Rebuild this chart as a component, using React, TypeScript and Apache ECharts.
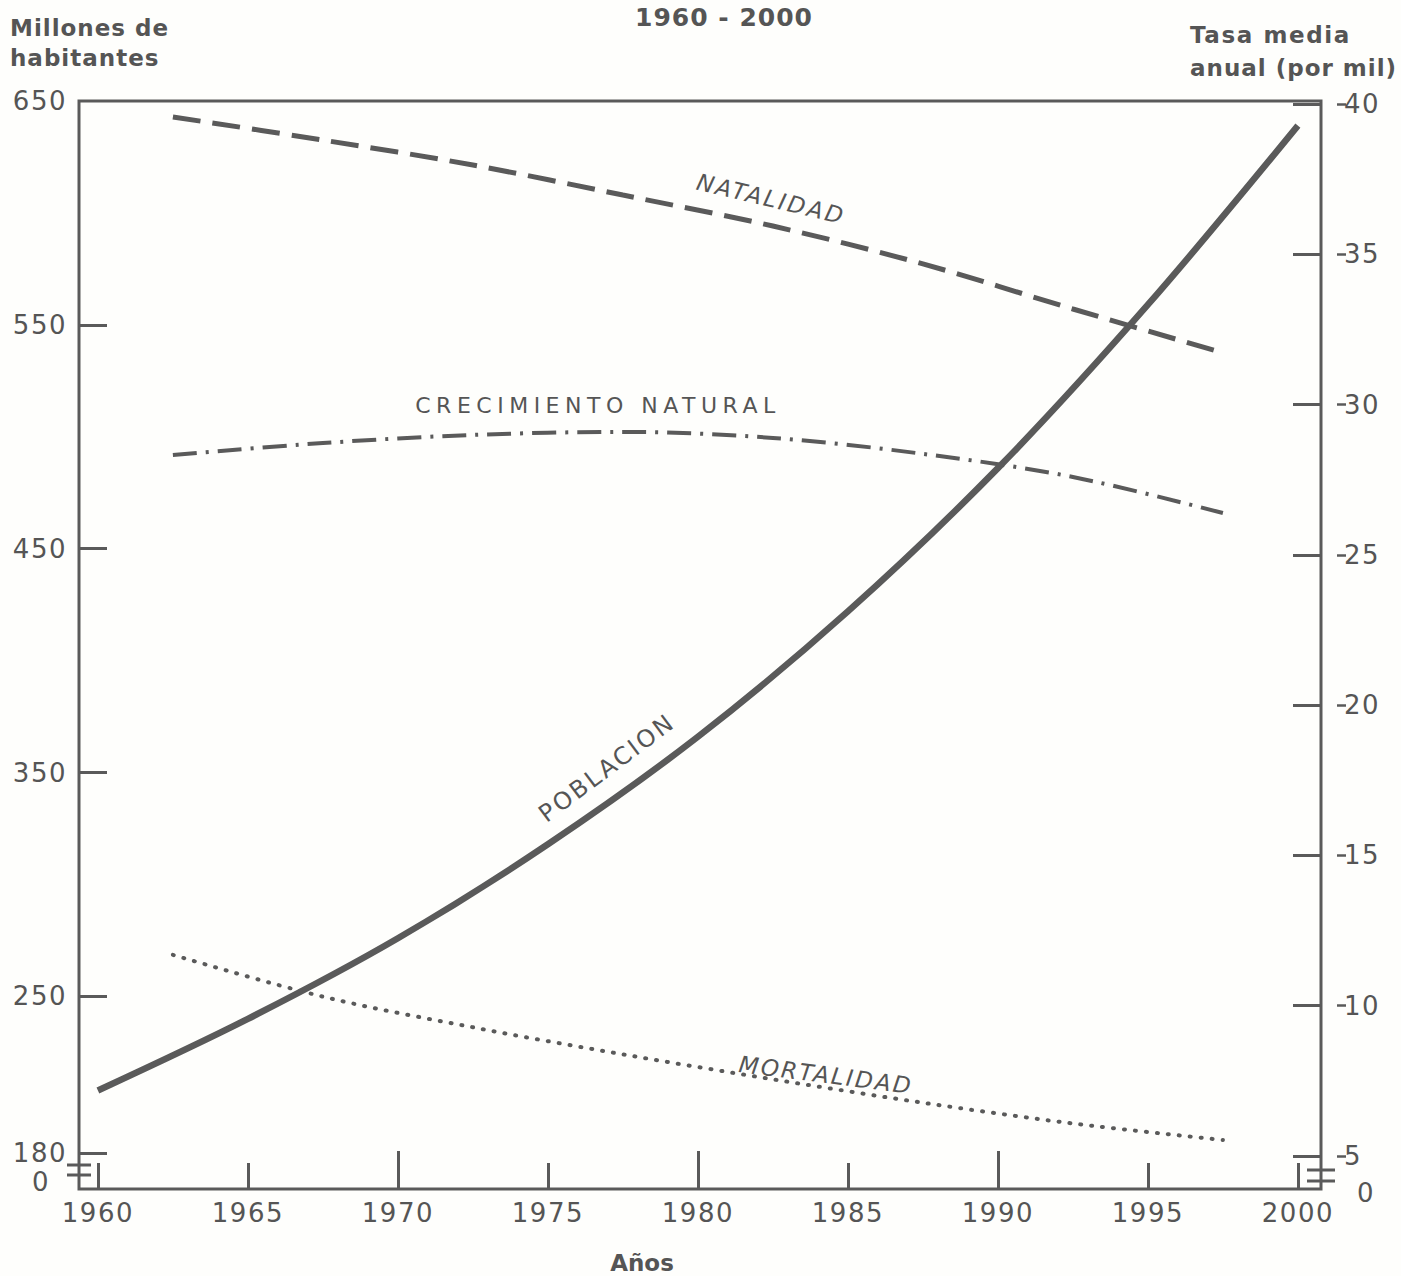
import React, { useEffect, useRef } from "react";
import * as echarts from "echarts";

// ---- data ----
const YEARS = [1960, 1965, 1970, 1975, 1980, 1985, 1990, 1995, 2000];
const POBLACION = [208, 240, 276, 318, 366, 422, 486, 559, 639];

const MID_YEARS = [1962.5, 1967.5, 1972.5, 1977.5, 1982.5, 1987.5, 1992.5, 1997.5];
const NATALIDAD = [39.57, 38.8, 37.97, 36.97, 35.94, 34.68, 33.18, 31.72];
const CRECIMIENTO = [28.32, 28.72, 28.99, 29.09, 28.89, 28.36, 27.59, 26.39];
const MORTALIDAD = [11.69, 10.3, 9.28, 8.38, 7.55, 6.77, 6.08, 5.53];

const X_LABELS = [1960, 1965, 1970, 1975, 1980, 1985, 1990, 1995, 2000];
const X_LONG_TICKS = [1970, 1980, 1990];
const X_SHORT_TICKS = [1960, 1965, 1975, 1985, 1995, 2000];
const LEFT_TICKS = [180, 250, 350, 450, 550];
const LEFT_LABELS = [180, 250, 350, 450, 550, 650];
const RIGHT_TICKS = [5, 10, 15, 20, 25, 30, 35, 40];

const INK = "#5a5a5a";
const TEXT = "#555555";
const FONT = "DejaVu Sans";
const SMOOTH = 0.33;

// extra spacing between letters of the hand-lettered labels
const LETTER_SPACING: Record<string, number> = {
  "CRECIMIENTO NATURAL": 5.5,
  NATALIDAD: 2.5,
  MORTALIDAD: 2.3,
  POBLACION: 2.5,
  "1960 - 2000": 1,
  "Millones de": 1,
  habitantes: 1,
  "Tasa media": 1.6,
  "anual (por mil)": 1,
};
const NUMBER_SPACING = 1.5;

const zip = (xs: number[], ys: number[]) => xs.map((x, i) => [x, ys[i]]);

export default function App() {
  const ref = useRef<HTMLDivElement>(null);

  useEffect(() => {
    document.body.style.margin = "0";
    document.body.style.overflow = "hidden";
    const chart = echarts.init(ref.current!, null, { renderer: "svg" });

    const X_MIN = 1959.37;
    const X_MAX = 2000.77;
    const L_MIN = 164;
    const L_MAX = 650;
    const R_MIN = 3.9;
    const R_MAX = 40.1;

    const tickLabel = { color: TEXT, fontFamily: FONT, fontSize: 26 };

    const option: any = {
      animation: false,
      backgroundColor: "#fefefc",
      grid: {
        left: 79,
        right: 80,
        top: 101,
        bottom: 87,
        show: true,
        borderColor: INK,
        borderWidth: 3,
        backgroundColor: "transparent",
      },
      xAxis: [
        {
          type: "value",
          min: X_MIN,
          max: X_MAX,
          position: "bottom",
          axisLine: { show: false },
          splitLine: { show: false },
          axisTick: {
            show: true,
            inside: true,
            length: 26,
            customValues: X_SHORT_TICKS,
            lineStyle: { color: INK, width: 3 },
          },
          axisLabel: {
            ...tickLabel,
            margin: 11,
            customValues: X_LABELS,
            formatter: (v: number) => String(Math.round(v)),
          },
        },
        {
          type: "value",
          min: X_MIN,
          max: X_MAX,
          position: "bottom",
          axisLine: { show: false },
          splitLine: { show: false },
          axisTick: {
            show: true,
            inside: true,
            length: 38,
            customValues: X_LONG_TICKS,
            lineStyle: { color: INK, width: 3 },
          },
          axisLabel: { show: false },
        },
      ],
      yAxis: [
        {
          type: "value",
          position: "left",
          min: L_MIN,
          max: L_MAX,
          axisLine: { show: false },
          splitLine: { show: false },
          axisTick: {
            show: true,
            inside: true,
            length: 28,
            customValues: LEFT_TICKS,
            lineStyle: { color: INK, width: 3 },
          },
          axisLabel: {
            ...tickLabel,
            margin: 12,
            customValues: LEFT_LABELS,
            formatter: (v: number) => String(Math.round(v)),
          },
        },
        {
          type: "value",
          position: "right",
          min: R_MIN,
          max: R_MAX,
          axisLine: { show: false },
          splitLine: { show: false },
          axisTick: {
            show: true,
            inside: true,
            length: 28,
            customValues: RIGHT_TICKS,
            lineStyle: { color: INK, width: 3 },
          },
          axisLabel: { show: false },
        },
        {
          type: "value",
          position: "right",
          offset: 16,
          min: R_MIN,
          max: R_MAX,
          axisLine: { show: false },
          splitLine: { show: false },
          axisTick: {
            show: true,
            inside: false,
            length: 9,
            customValues: RIGHT_TICKS,
            lineStyle: { color: INK, width: 2.5 },
          },
          axisLabel: {
            ...tickLabel,
            margin: 7,
            customValues: RIGHT_TICKS,
            formatter: (v: number) => String(Math.round(v)),
          },
        },
      ],
      series: [
        {
          name: "POBLACION",
          type: "line",
          xAxisIndex: 0,
          yAxisIndex: 0,
          data: zip(YEARS, POBLACION),
          smooth: SMOOTH,
          showSymbol: false,
          lineStyle: { color: INK, width: 6.5 },
        },
        {
          name: "NATALIDAD",
          type: "line",
          xAxisIndex: 0,
          yAxisIndex: 1,
          data: zip(MID_YEARS, NATALIDAD),
          smooth: SMOOTH,
          showSymbol: false,
          lineStyle: { color: INK, width: 5, type: [28, 12] },
        },
        {
          name: "CRECIMIENTO NATURAL",
          type: "line",
          xAxisIndex: 0,
          yAxisIndex: 1,
          data: zip(MID_YEARS, CRECIMIENTO),
          smooth: SMOOTH,
          showSymbol: false,
          lineStyle: { color: INK, width: 4, type: [24, 9, 3, 9] },
        },
        {
          name: "MORTALIDAD",
          type: "line",
          xAxisIndex: 0,
          yAxisIndex: 1,
          data: zip(MID_YEARS, MORTALIDAD),
          smooth: SMOOTH,
          showSymbol: false,
          lineStyle: { color: INK, width: 4, type: [1, 10], cap: "round" },
        },
      ],
      graphic: [
        // title and axis names
        {
          type: "text",
          x: 724,
          y: 17,
          style: {
            text: "1960 - 2000",
            fill: TEXT,
            font: `bold 25px "${FONT}"`,
            align: "center",
            verticalAlign: "middle",
          },
        },
        {
          type: "text",
          x: 10,
          y: 28,
          style: {
            text: "Millones de",
            fill: TEXT,
            font: `bold 23px "${FONT}"`,
            align: "left",
            verticalAlign: "middle",
          },
        },
        {
          type: "text",
          x: 10,
          y: 58,
          style: {
            text: "habitantes",
            fill: TEXT,
            font: `bold 23px "${FONT}"`,
            align: "left",
            verticalAlign: "middle",
          },
        },
        {
          type: "text",
          x: 1190,
          y: 35,
          style: {
            text: "Tasa media",
            fill: TEXT,
            font: `bold 23px "${FONT}"`,
            align: "left",
            verticalAlign: "middle",
          },
        },
        {
          type: "text",
          x: 1190,
          y: 68,
          style: {
            text: "anual (por mil)",
            fill: TEXT,
            font: `bold 23px "${FONT}"`,
            align: "left",
            verticalAlign: "middle",
          },
        },
        {
          type: "text",
          x: 642,
          y: 1263,
          style: {
            text: "Años",
            fill: TEXT,
            font: `bold 23px "${FONT}"`,
            align: "center",
            verticalAlign: "middle",
          },
        },
        // axis-break zeros
        {
          type: "text",
          x: 41,
          y: 1182,
          style: { text: "0", fill: TEXT, font: `26px "${FONT}"`, align: "center", verticalAlign: "middle" },
        },
        {
          type: "text",
          x: 1366,
          y: 1193,
          style: { text: "0", fill: TEXT, font: `26px "${FONT}"`, align: "center", verticalAlign: "middle" },
        },
        // axis break marks
        { type: "line", shape: { x1: 67, y1: 1165, x2: 91, y2: 1165 }, style: { stroke: INK, lineWidth: 3 } },
        { type: "line", shape: { x1: 67, y1: 1175, x2: 91, y2: 1175 }, style: { stroke: INK, lineWidth: 3 } },
        { type: "line", shape: { x1: 1307, y1: 1170, x2: 1335, y2: 1170 }, style: { stroke: INK, lineWidth: 3 } },
        { type: "line", shape: { x1: 1307, y1: 1181, x2: 1335, y2: 1181 }, style: { stroke: INK, lineWidth: 3 } },
        // series names
        {
          type: "text",
          x: 771,
          y: 199,
          rotation: -0.234,
          style: {
            text: "NATALIDAD",
            fill: TEXT,
            font: `italic 23px "${FONT}"`,
            align: "center",
            verticalAlign: "middle",
          },
        },
        {
          type: "text",
          x: 598,
          y: 405,
          style: {
            text: "CRECIMIENTO NATURAL",
            fill: TEXT,
            font: `22px "${FONT}"`,
            align: "center",
            verticalAlign: "middle",
          },
        },
        {
          type: "text",
          x: 607,
          y: 768,
          rotation: 0.644,
          style: {
            text: "POBLACION",
            fill: TEXT,
            font: `24px "${FONT}"`,
            align: "center",
            verticalAlign: "middle",
          },
        },
        {
          type: "text",
          x: 826,
          y: 1075,
          rotation: -0.126,
          style: {
            text: "MORTALIDAD",
            fill: TEXT,
            font: `italic 23px "${FONT}"`,
            align: "center",
            verticalAlign: "middle",
          },
        },
      ],
    };

    chart.setOption(option);

    // apply letter spacing to the hand-lettered labels in the rendered SVG
    const el = ref.current!;
    el.querySelectorAll("text").forEach((t) => {
      const txt = (t.textContent || "").trim();
      const s = LETTER_SPACING[txt] ?? (/^\d+$/.test(txt) ? NUMBER_SPACING : 0);
      if (s) t.setAttribute("letter-spacing", String(s));
    });

    return () => chart.dispose();
  }, []);

  return <div ref={ref} style={{ width: 1401, height: 1276 }} />;
}
